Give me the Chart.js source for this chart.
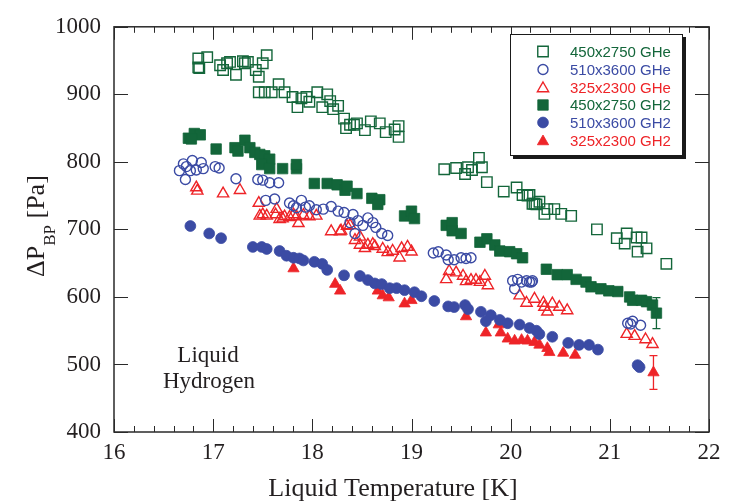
<!DOCTYPE html>
<html><head><meta charset="utf-8">
<script src="https://cdn.jsdelivr.net/npm/chart.js@4/dist/chart.umd.min.js"></script>
<style>html,body{margin:0;padding:0;background:#fff;}canvas{display:block}</style>
</head><body>
<canvas id="c" width="729" height="504"></canvas>
<script>
// ---- data (Liquid Temperature [K], ΔP_BP [Pa]) ----
const xTicks = [16, 17, 18, 19, 20, 21, 22];
const yTicks = [400, 500, 600, 700, 800, 900, 1000];
const seriesNames = ['450x2750 GHe', '510x3600 GHe', '325x2300 GHe', '450x2750 GH2', '510x3600 GH2', '325x2300 GH2'];

const ghe450 = [[16.85,953],[16.94,955],[16.85,940],[16.86,939],[17.07,943],[17.14,946],[17.17,948],[17.10,936],[17.23,929],[17.30,949],
 [17.35,948],[17.32,946],[17.43,936],[17.50,946],[17.54,958],[17.46,926],[17.46,903],[17.52,903],[17.59,903],[17.66,915],
 [17.72,903],[17.80,896],[17.85,881],[17.89,894],[17.94,896],[17.97,889],[18.05,903],[18.10,881],[18.15,900],[18.18,890],
 [18.21,878],[18.26,883],[18.32,864],[18.34,850],[18.38,855],[18.42,855],[18.45,857],[18.53,847],[18.59,860],[18.68,857],
 [18.74,844],[18.83,848],[18.87,853],[18.87,837],[19.33,789],[19.45,791],[19.54,782],[19.57,792],[19.61,788],[19.68,806],
 [19.71,792],[19.76,770],[19.93,756],[20.06,762],[20.12,751],[20.17,750],[20.19,751],[20.22,738],[20.24,738],[20.26,737],
 [20.29,741],[20.34,723],[20.37,730],[20.44,730],[20.51,723],[20.61,720],[20.87,700],[21.07,687],[21.15,679],[21.17,694],
 [21.27,688],[21.32,688],[21.28,667],[21.37,672],[21.57,649]];

const ghe510 = [[16.66,787],[16.70,797],[16.73,793],[16.79,802],[16.77,787],[16.72,774],[16.83,788],[16.88,799],[16.90,790],[17.02,793],
 [17.06,791],[17.23,775],[17.45,774],[17.50,773],[17.57,769],[17.66,769],[17.53,743],[17.62,745],[17.77,739],[17.81,735],
 [17.84,732],[17.89,743],[17.93,733],[17.97,735],[18.04,729],[18.11,730],[18.19,734],[18.26,727],[18.32,725],[18.41,722],
 [18.38,710],[18.46,713],[18.51,706],[18.56,717],[18.61,710],[18.64,703],[18.70,694],[18.76,691],[18.43,694],[19.22,665],
 [19.27,667],[19.35,662],[19.37,655],[19.43,655],[19.50,658],[19.55,657],[19.60,658],[20.02,624],[20.07,626],[20.11,622],
 [20.16,624],[20.21,622],[20.04,612],[20.19,622],[20.22,624],[21.18,561],[21.21,560],[21.23,564],[21.31,558]];

const ghe325 = [[16.83,762],[16.84,757],[17.10,753],[17.27,758],[17.46,739],[17.47,720],[17.50,722],[17.54,720],[17.64,730],[17.63,722],
 [17.67,715],[17.72,719],[17.70,716],[17.77,718],[17.81,722],[17.84,719],[17.86,709],[17.91,721],[17.97,719],[18.04,720],
 [18.19,697],[18.28,697],[18.35,705],[18.29,698],[18.38,706],[18.43,684],[18.48,689],[18.48,677],[18.53,672],[18.56,677],
 [18.61,678],[18.63,675],[18.71,671],[18.76,666],[18.81,668],[18.88,658],[18.90,672],[18.96,674],[19.00,667],[19.35,626],
 [19.38,638],[19.45,636],[19.52,631],[19.55,623],[19.60,625],[19.65,625],[19.69,622],[19.74,631],[19.77,617],[20.09,602],
 [20.16,591],[20.24,597],[20.33,591],[20.34,585],[20.37,578],[20.42,590],[20.49,585],[20.57,580],[21.17,545],[21.25,542],
 [21.36,537],[21.43,530]];

const gh2450 = [[16.75,835],[16.81,842],[16.87,840],[16.78,834],[17.03,819],[17.22,821],[17.25,816],[17.32,832],[17.37,821],[17.42,814],
 [17.47,811],[17.52,809],[17.57,804],[17.49,796],[17.57,790],[17.70,790],[17.84,790],[17.84,796],[18.02,768],[18.15,768],
 [18.25,766],[18.33,758],[18.35,764],[18.45,753],[18.60,746],[18.68,744],[18.66,737],[18.93,720],[19.00,727],[19.03,716],
 [19.35,706],[19.41,710],[19.41,698],[19.50,694],[19.69,681],[19.76,686],[19.84,677],[19.89,668],[19.99,667],[20.06,664],
 [20.12,658],[20.36,641],[20.47,633],[20.57,633],[20.66,626],[20.76,622],[20.81,615],[20.91,612],[20.99,609],[21.08,608],
 [21.20,600],[21.23,595],[21.32,595],[21.37,593],[21.43,588],[21.47,576]];

const gh2510 = [[16.77,705],[16.96,694],[17.08,687],[17.40,674],[17.49,674],[17.54,671],[17.67,668],[17.74,661],[17.81,658],[17.87,657],
 [17.91,654],[18.02,652],[18.10,649],[18.15,640],[18.32,632],[18.48,631],[18.56,625],[18.63,620],[18.70,619],[18.78,613],
 [18.85,613],[18.93,610],[19.03,607],[19.10,601],[19.23,594],[19.37,586],[19.43,585],[19.54,588],[19.57,582],[19.70,578],
 [19.80,573],[19.75,564],[19.89,566],[19.97,561],[20.09,559],[20.19,554],[20.26,550],[20.29,545],[20.42,541],[20.58,532],
 [20.69,529],[20.79,529],[20.88,522],[21.28,499],[21.30,496]];

const gh2325 = [[17.81,642],[18.23,619],[18.28,609],[18.66,609],[18.71,602],[18.77,599],[18.93,590],[19.00,595],[19.55,571],[19.75,547],
 [19.88,559],[19.90,547],[19.97,538],[20.04,535],[20.11,536],[20.17,535],[20.24,533],[20.29,529],[20.37,524],[20.39,518],
 [20.53,517],[20.65,514],[21.44,488]];

// error bars: [T, P, ±err]
const errGH2450 = [[21.47, 576, 23]];
const errGH2325 = [[21.44, 488, 25]];

const GREEN = '#13663a', BLUE = '#3b4ba4', RED = '#ee2428';
const colors = [GREEN, BLUE, RED, GREEN, BLUE, RED];
const styles = ['rect', 'circle', 'triangle', 'rect', 'circle', 'triangle'];
const radii = [7.4, 5.0, 6.5, 7.4, 5.4, 6.5];
const filled = [false, false, false, true, true, true];
const allData = [ghe450, ghe510, ghe325, gh2450, gh2510, gh2325];
const errs = [null, null, null, errGH2450, null, errGH2325];

const datasets = allData.map((d, i) => ({
  label: seriesNames[i],
  data: d.map(p => ({x: p[0], y: p[1]})),
  showLine: false,
  pointStyle: styles[i],
  pointRadius: radii[i],
  pointHoverRadius: radii[i],
  pointBorderWidth: filled[i] ? 0.8 : 1.4,
  pointBackgroundColor: filled[i] ? colors[i] : 'rgba(0,0,0,0)',
  pointBorderColor: colors[i],
  borderColor: colors[i],
  backgroundColor: filled[i] ? colors[i] : 'rgba(0,0,0,0)'
}));

const SERIF = '"Liberation Serif", "Times New Roman", serif';
const SANS = '"Liberation Sans", Arial, sans-serif';

const decor = {
  id: 'decor',
  afterDatasetsDraw(chart) {
    const ctx = chart.ctx, xs = chart.scales.x, ys = chart.scales.y;
    ctx.save();
    errs.forEach((list, i) => {
      if (!list) return;
      ctx.strokeStyle = colors[i]; ctx.lineWidth = 1.3;
      list.forEach(([t, p, e]) => {
        const x = xs.getPixelForValue(t), y1 = ys.getPixelForValue(p + e), y2 = ys.getPixelForValue(p - e);
        ctx.beginPath();
        ctx.moveTo(x, y1); ctx.lineTo(x, y2);
        ctx.moveTo(x - 4, y1); ctx.lineTo(x + 4, y1);
        ctx.moveTo(x - 4, y2); ctx.lineTo(x + 4, y2);
        ctx.stroke();
      });
    });
    ctx.restore();
  },
  afterDraw(chart) {
    const ctx = chart.ctx, a = chart.chartArea, xs = chart.scales.x, ys = chart.scales.y;
    ctx.save();
    // frame
    ctx.strokeStyle = '#2a2a2a'; ctx.lineWidth = 1.5;
    ctx.strokeRect(a.left, a.top, a.right - a.left, a.bottom - a.top);
    // ticks
    ctx.lineWidth = 1;
    ctx.beginPath();
    for (let k = 0; k <= 30; k++) {
      const v = xTicks[0] + k * 0.2;
      const x = Math.round(xs.getPixelForValue(v)) + 0.5;
      const len = (k % 5 === 0) ? 13 : 6;
      ctx.moveTo(x, a.bottom); ctx.lineTo(x, a.bottom - len);
      ctx.moveTo(x, a.top); ctx.lineTo(x, a.top + len);
    }
    yTicks.forEach(v => {
      const y = Math.round(ys.getPixelForValue(v)) + 0.5;
      ctx.moveTo(a.left, y); ctx.lineTo(a.left + 14, y);
      ctx.moveTo(a.right, y); ctx.lineTo(a.right - 14, y);
    });
    ctx.stroke();

    // axis titles
    ctx.fillStyle = '#231f20';
    ctx.font = '26px ' + SERIF;
    ctx.textAlign = 'center'; ctx.textBaseline = 'alphabetic';
    ctx.fillText('Liquid Temperature [K]', 393, 496);

    ctx.save();
    ctx.translate(43.5, 277);
    ctx.rotate(-Math.PI / 2);
    ctx.textAlign = 'left';
    ctx.font = '26px ' + SERIF;
    const t1 = '\u0394P';
    ctx.fillText(t1, 0, 0);
    let w = ctx.measureText(t1).width;
    ctx.font = '17px ' + SERIF;
    ctx.fillText('BP', w, 11.5);
    w += ctx.measureText('BP').width;
    ctx.font = '26px ' + SERIF;
    ctx.fillText(' [Pa]', w, 0);
    ctx.restore();

    // annotation
    ctx.font = '23px ' + SERIF;
    ctx.textAlign = 'center';
    ctx.fillText('Liquid', 208, 362);
    ctx.fillText('Hydrogen', 209, 388);

    // legend box
    const L = 510, T = 34, R = 683, B = 156;
    ctx.fillStyle = '#1a1a1a';
    ctx.fillRect(L + 3, T + 3, R - L, B - T);
    ctx.fillStyle = '#fff';
    ctx.fillRect(L, T, R - L, B - T);
    ctx.strokeStyle = '#1a1a1a'; ctx.lineWidth = 1;
    ctx.strokeRect(L + 0.5, T + 0.5, R - L - 1, B - T - 1);
    const rowsY = [51.5, 69.5, 87.5, 105, 122.5, 140.5];
    ctx.font = '15px ' + SANS;
    ctx.textAlign = 'left'; ctx.textBaseline = 'middle';
    seriesNames.forEach((name, i) => {
      ctx.fillStyle = filled[i] ? colors[i] : 'rgba(0,0,0,0)';
      ctx.strokeStyle = colors[i];
      ctx.lineWidth = filled[i] ? 0.8 : 1.4;
      Chart.helpers.drawPoint(ctx, {pointStyle: styles[i], rotation: 0, borderWidth: filled[i] ? 0.8 : 1.4, radius: radii[i]}, 543, rowsY[i] + (styles[i]==='triangle' ? 1 : 0));
      ctx.fillStyle = colors[i];
      ctx.fillText(name, 570, rowsY[i] + 1);
    });
    ctx.restore();
  }
};

new Chart(document.getElementById('c'), {
  type: 'scatter',
  data: {datasets},
  options: {
    responsive: false,
    animation: false,
    devicePixelRatio: 1,
    layout: {padding: {left: 0, right: 20, top: 16, bottom: 0}},
    plugins: {legend: {display: false}, tooltip: {enabled: false}},
    scales: {
      x: {
        type: 'linear', min: 16, max: 22,
        afterFit: s => { s.height = 72; },
        afterBuildTicks: s => { s.ticks = xTicks.map(v => ({value: v})); },
        grid: {display: false, drawTicks: false},
        border: {display: false},
        ticks: {padding: 7, color: '#231f20', font: {family: SERIF, size: 23}, maxRotation: 0, autoSkip: false, callback: v => String(v)}
      },
      y: {
        type: 'linear', min: 400, max: 1000,
        afterFit: s => { s.width = 114; },
        afterBuildTicks: s => { s.ticks = yTicks.map(v => ({value: v})); },
        grid: {display: false, drawTicks: false},
        border: {display: false},
        ticks: {padding: 13, color: '#231f20', font: {family: SERIF, size: 23}, autoSkip: false, callback: v => String(v)}
      }
    }
  },
  plugins: [decor]
});
</script>
</body></html>
